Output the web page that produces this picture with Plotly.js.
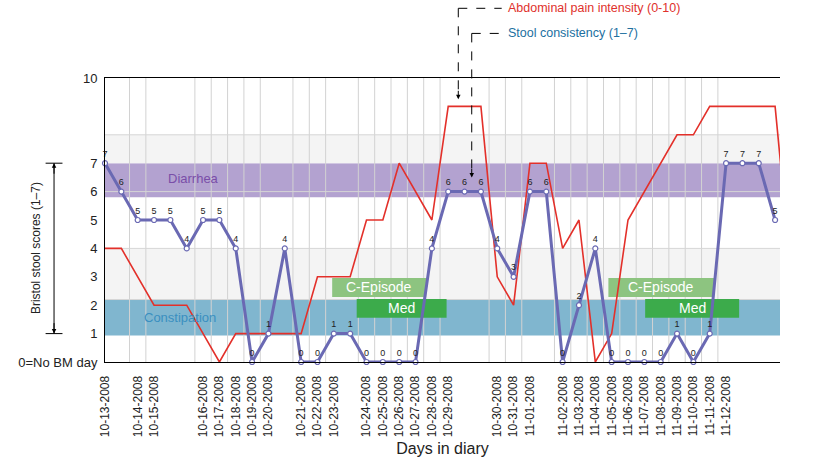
<!DOCTYPE html>
<html>
<head>
<meta charset="utf-8">
<script src="https://cdn.plot.ly/plotly-3.0.1.min.js"></script>
<style>html,body{margin:0;padding:0;background:#fff;}#chart{width:839px;height:470px;}</style>
</head>
<body>
<div id="chart"></div>
<script>
// ---- data ----
const tickIdx = [0,2,3,6,7,8,9,10,12,13,14,16,17,18,19,20,21,24,25,26,28,29,30,31,32,33,34,35,36,37,38];
const tickText = ["10-13-2008","10-14-2008","10-15-2008","10-16-2008","10-17-2008","10-18-2008","10-19-2008","10-20-2008",
  "10-21-2008","10-22-2008","10-23-2008","10-24-2008","10-25-2008","10-26-2008","10-27-2008","10-28-2008","10-29-2008",
  "10-30-2008","10-31-2008","11-01-2008","11-02-2008","11-03-2008","11-04-2008","11-05-2008","11-06-2008","11-07-2008",
  "11-08-2008","11-09-2008","11-10-2008","11-11-2008","11-12-2008"];
const stool = [7,6,5,5,5,4,5,5,4,0, 1,4,0,0,1,1,0,0,0,0, 4,6,6,6,4,3,6,6,0,2, 4,0,0,0,0,1,0,1,7,7,7,5];
const painIdx = [0,1,3,5,7,8,12,13,15,16,17,18,20,21,23,24,25,26,27,28,29,30,31,32,35,36,37,41,42];
const painVal = [4,4,2,2,0,1,1,3,3,5,5,7,5,9,9,3,2,7,7,4,5,0,1,5,8,8,9,9,3];
const yTickVals = [0,1,2,3,4,5,6,7,10];
const yTickText = ["0=No BM day","1","2","3","4","5","6","7","10"];
const gridY = [2.2,4,6,8];
const zoneLow  = [0.93, 2.2, 5.8, 7];
const zoneHigh = [2.2, 4, 7, 8];
const zoneColor = ["#80b6cf","#f4f4f4","#b3a2d0","#f4f4f4"];
const zoneName = ["Constipation","","Diarrhea",""];
const episodeStart = [13.9, 30.8];
const episodeEnd   = [19.65, 37.27];
const medStart = [15.4, 33.05];
const medEnd   = [20.9, 38.8];

const stoolIdx = stool.map((v,i)=>i);
const xMax = 41.3;

const shapes = [];
// zones
zoneLow.forEach((lo,i)=>{
  shapes.push({type:'rect',xref:'x',yref:'y',x0:0,x1:xMax,y0:lo,y1:zoneHigh[i],fillcolor:zoneColor[i],line:{width:0},layer:'below'});
});
// gridlines
tickIdx.map(v=>v-0.5).filter(v=>v>0).forEach(g=>{
  shapes.push({type:'line',xref:'x',yref:'y',x0:g,x1:g,y0:0,y1:10,line:{color:'#d2d2d2',width:1},layer:'below'});
});
gridY.forEach(g=>{
  shapes.push({type:'line',xref:'x',yref:'y',x0:0,x1:xMax,y0:g,y1:g,line:{color:'#d6d6d6',width:1},layer:'below'});
});
// episode boxes
episodeStart.forEach((s,i)=>{
  shapes.push({type:'rect',xref:'x',yref:'y',x0:s,x1:episodeEnd[i],y0:2.29,y1:2.96,fillcolor:'#8dc480',line:{width:0},layer:'below'});
  shapes.push({type:'rect',xref:'x',yref:'y',x0:medStart[i],x1:medEnd[i],y0:1.56,y1:2.22,fillcolor:'#3cab4b',line:{width:0},layer:'below'});
});
// y-title double arrow
const ax = -0.0755;
shapes.push({type:'line',xref:'paper',yref:'paper',x0:ax,x1:ax,y0:0.1,y1:0.7,line:{color:'#000',width:1}});
shapes.push({type:'line',xref:'paper',yref:'paper',x0:ax-0.0125,x1:ax+0.0125,y0:0.7,y1:0.7,line:{color:'#000',width:1}});
shapes.push({type:'line',xref:'paper',yref:'paper',x0:ax-0.0125,x1:ax+0.0125,y0:0.1,y1:0.1,line:{color:'#000',width:1}});
// top legend dashed leaders
const p1x = 0.5234, p2x = 0.5433, tx = 0.5877;
shapes.push({type:'line',xref:'paper',yref:'paper',x0:p1x,x1:tx,y0:1.2454,y1:1.2454,line:{color:'#000',width:1,dash:'dash'}});
shapes.push({type:'line',xref:'paper',yref:'paper',x0:p1x,x1:p1x,y0:1.2454,y1:0.935,line:{color:'#000',width:1,dash:'dash'}});
shapes.push({type:'line',xref:'paper',yref:'paper',x0:p2x,x1:tx,y0:1.157,y1:1.157,line:{color:'#000',width:1,dash:'dash'}});
shapes.push({type:'line',xref:'paper',yref:'paper',x0:p2x,x1:p2x,y0:1.157,y1:0.66,line:{color:'#000',width:1,dash:'dash'}});

const annotations = [];
zoneName.forEach((n,i)=>{
  if(!n) return;
  annotations.push({xref:'x',yref:'y',x: i===0?4.6:5.4, y:(zoneLow[i]+zoneHigh[i])/2 + (i===0?0.0:0.05), text:n, showarrow:false,
    font:{size:13,color: i===0?'#3a8fc0':'#7a4ea8'}});
});
episodeStart.forEach((s,i)=>{
  annotations.push({xref:'x',yref:'y',x:(s+episodeEnd[i])/2,y:2.625,text:'C-Episode',showarrow:false,font:{size:14,color:'#fff'}});
  annotations.push({xref:'x',yref:'y',x:(medStart[i]+medEnd[i])/2,y:1.89,text:'Med',showarrow:false,font:{size:14,color:'#fff'}});
});
annotations.push({xref:'paper',yref:'paper',x:-0.1145,y:0.4,text:'Bristol stool scores (1–7)',textangle:-90,showarrow:false,font:{size:12,color:'#222'}});
annotations.push({xref:'paper',yref:'paper',x:ax,y:0.7,ax:0,ay:12,text:'',showarrow:true,arrowhead:2,arrowsize:0.9,arrowwidth:1,arrowcolor:'#000'});
annotations.push({xref:'paper',yref:'paper',x:ax,y:0.1,ax:0,ay:-12,text:'',showarrow:true,arrowhead:2,arrowsize:0.9,arrowwidth:1,arrowcolor:'#000'});
annotations.push({xref:'paper',yref:'paper',x:tx+0.006,y:1.2454,xanchor:'left',yanchor:'middle',text:'Abdominal pain intensity (0-10)',showarrow:false,font:{size:12.5,color:'#e0312c'}});
annotations.push({xref:'paper',yref:'paper',x:tx+0.006,y:1.157,xanchor:'left',yanchor:'middle',text:'Stool consistency (1–7)',showarrow:false,font:{size:12.5,color:'#21709f'}});
annotations.push({xref:'paper',yref:'paper',x:p1x,y:0.925,ax:0,ay:-10,text:'',showarrow:true,arrowhead:2,arrowsize:0.9,arrowwidth:1,arrowcolor:'#000'});
annotations.push({xref:'paper',yref:'paper',x:p2x,y:0.65,ax:0,ay:-10,text:'',showarrow:true,arrowhead:2,arrowsize:0.9,arrowwidth:1,arrowcolor:'#000'});

const traces = [
  {x:painIdx,y:painVal,type:'scatter',mode:'lines',line:{color:'#e3302a',width:1.6},hoverinfo:'skip',showlegend:false},
  {x:stoolIdx,y:stool,type:'scatter',mode:'lines+markers+text',text:stool.map(String),textposition:'top center',
   textfont:{size:9,color:'#222'},cliponaxis:false,
   line:{color:'#6a69b3',width:3},marker:{size:5,color:'#fff',line:{color:'#6a69b3',width:1.2}},showlegend:false}
];

const layout = {
  width:839,height:470,
  margin:{l:105,r:59,t:78,b:108},
  paper_bgcolor:'#fff',plot_bgcolor:'#fff',
  font:{family:'"Liberation Sans", Arial, sans-serif',color:'#222'},
  showlegend:false,
  xaxis:{range:[0,xMax],tickmode:'array',tickvals:tickIdx,ticktext:tickText,tickangle:-90,
    tickfont:{size:12,color:'#222'},showgrid:false,zeroline:false,showline:true,mirror:true,linecolor:'#000',linewidth:1,
    ticks:'',ticklabelstandoff:8,
    title:{text:'Days in diary',font:{size:16,color:'#222'},standoff:6}},
  yaxis:{range:[0,10],tickmode:'array',tickvals:yTickVals,ticktext:yTickText,tickfont:{size:13,color:'#222'},
    showgrid:false,zeroline:false,showline:true,linecolor:'#000',linewidth:1,ticks:'',ticklabelstandoff:4},
  shapes:shapes,
  annotations:annotations
};
Plotly.newPlot('chart',traces,layout,{displayModeBar:false,staticPlot:true});
</script>
</body>
</html>
